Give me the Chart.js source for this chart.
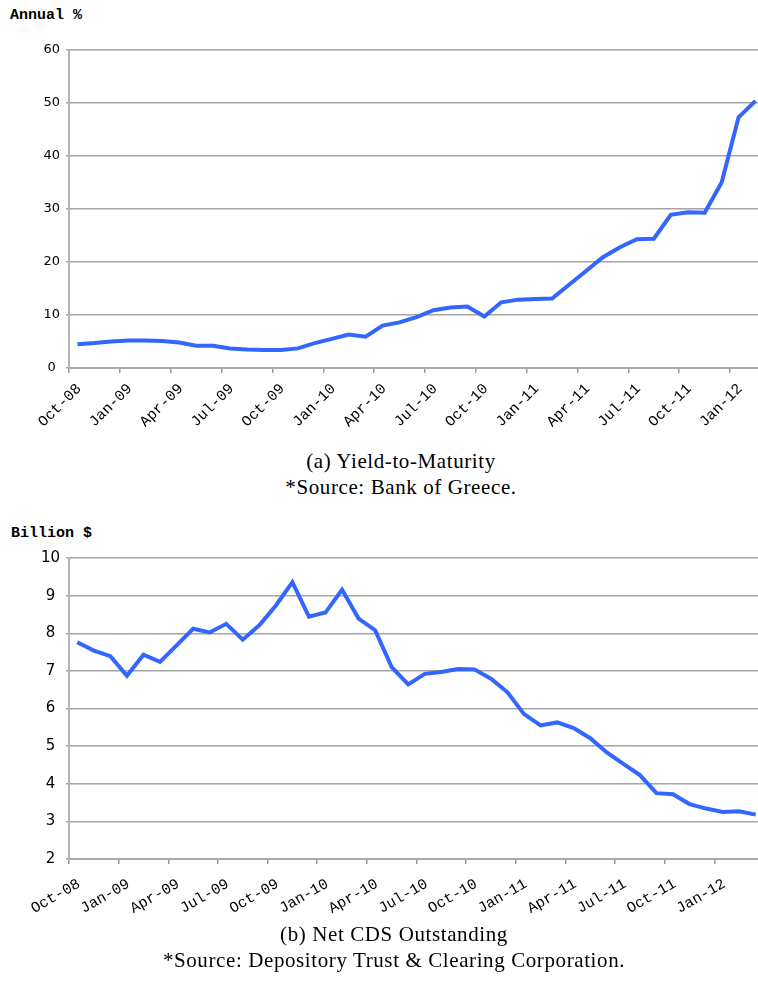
<!DOCTYPE html>
<html>
<head>
<meta charset="utf-8">
<script src="https://cdn.jsdelivr.net/npm/chart.js@4.4.1/dist/chart.umd.min.js"></script>
<style>
  html, body { margin: 0; padding: 0; background: #fff; overflow: hidden; }
  body { width: 758px; height: 992px; position: relative; }
  .box { position: absolute; left: 0; }
  .unit { position: absolute; font: bold 15px "Liberation Mono", monospace; line-height: 15px; color: #000; white-space: nowrap; }
  .cap { position: absolute; width: 800px; text-align: center; font-family: "Liberation Serif", serif; font-size: 21px; line-height: 21px; letter-spacing: 0.6px; color: #000; white-space: nowrap; }
</style>
</head>
<body>

<div class="unit" style="left:10px; top:8px;">Annual %</div>
<div class="box" style="top:0px;"><canvas id="ytm" width="770" height="445"></canvas></div>
<div class="cap" style="left:1px; top:451px;">(a) Yield-to-Maturity</div>
<div class="cap" style="left:1px; top:477px;">*Source: Bank of Greece.</div>

<div class="unit" style="left:11px; top:526px;">Billion $</div>
<div class="box" style="top:500px;"><canvas id="cds" width="770" height="430"></canvas></div>
<div class="cap" style="left:-6px; top:924px;">(b) Net CDS Outstanding</div>
<div class="cap" style="left:-6px; top:950px;">*Source: Depository Trust &amp; Clearing Corporation.</div>

<script>
// monthly observations, Oct-08 onwards
const months = ['Oct-08','Nov-08','Dec-08','Jan-09','Feb-09','Mar-09','Apr-09','May-09','Jun-09','Jul-09',
  'Aug-09','Sep-09','Oct-09','Nov-09','Dec-09','Jan-10','Feb-10','Mar-10','Apr-10','May-10','Jun-10',
  'Jul-10','Aug-10','Sep-10','Oct-10','Nov-10','Dec-10','Jan-11','Feb-11','Mar-11','Apr-11','May-11',
  'Jun-11','Jul-11','Aug-11','Sep-11','Oct-11','Nov-11','Dec-11','Jan-12','Feb-12','Mar-12'];

// quarterly tick labels (at the start of each quarter)
const tickLabels = ['Oct-08','Jan-09','Apr-09','Jul-09','Oct-09','Jan-10','Apr-10',
  'Jul-10','Oct-10','Jan-11','Apr-11','Jul-11','Oct-11','Jan-12'];

// (a) yield-to-maturity, annual %  (Oct-08 .. Feb-12)
const yieldPct = [4.5, 4.7, 5.0, 5.2, 5.2, 5.1, 4.8, 4.2, 4.2, 3.7,
  3.5, 3.4, 3.4, 3.7, 4.7, 5.5, 6.3, 5.9, 8.0, 8.6,
  9.6, 10.9, 11.4, 11.6, 9.7, 12.4, 12.9, 13.0, 13.1, 15.7,
  18.3, 20.9, 22.8, 24.3, 24.4, 28.9, 29.4, 29.3, 35.0, 47.3,
  50.4];

// (b) net CDS outstanding, billion $  (Oct-08 .. Mar-12)
const cdsBillion = [7.76, 7.54, 7.39, 6.87, 7.43, 7.24, 7.68, 8.12, 8.02, 8.25,
  7.83, 8.21, 8.74, 9.36, 8.44, 8.55, 9.16, 8.39, 8.08, 7.10,
  6.64, 6.92, 6.97, 7.05, 7.04, 6.79, 6.43, 5.85, 5.55, 5.63,
  5.48, 5.21, 4.83, 4.53, 4.23, 3.75, 3.72, 3.46, 3.34, 3.25,
  3.27, 3.18];

const yTicksA = [0, 60, 10];
const yTicksB = [2, 10, 1];

// build one line chart; points sit in the middle of their month
function makeChart(id, values, yRange, rotation, yFontSize, padTop, xHeight, xPad) {
  const points = values.map((v, i) => ({ x: i + 0.5, y: v }));
  return new Chart(document.getElementById(id), {
    type: 'line',
    data: {
      datasets: [{
        data: points,
        borderColor: '#3366ff',
        borderWidth: 4,
        pointRadius: 0,
        tension: 0,
        fill: false
      }]
    },
    options: {
      responsive: false,
      animation: false,
      layout: { padding: { top: padTop, right: 6, left: 0, bottom: 0 } },
      plugins: { legend: { display: false }, tooltip: { enabled: false } },
      scales: {
        x: {
          type: 'linear',
          min: 0,
          max: values.length,
          afterBuildTicks: (scale) => {
            scale.ticks = tickLabels.map((t, i) => ({ value: i * 3 }));
          },
          afterFit: (scale) => { scale.height = xHeight; },
          ticks: {
            autoSkip: false,
            minRotation: rotation,
            maxRotation: rotation,
            padding: xPad,
            labelOffset: 10,
            color: '#000',
            font: { family: 'Liberation Mono', size: 15 },
            callback: (v) => tickLabels[Math.round(v / 3)]
          },
          grid: { drawOnChartArea: false, drawTicks: true, tickLength: 5, color: '#999', lineWidth: 1.5 },
          border: { color: '#aaa', width: 2 }
        },
        y: {
          min: yRange[0],
          max: yRange[1],
          afterFit: (scale) => { scale.width = 69; },
          ticks: {
            stepSize: yRange[2],
            crossAlign: 'center',
            padding: 6,
            color: '#000',
            font: { family: 'DejaVu Sans', size: yFontSize }
          },
          grid: { color: '#a4a4a4', lineWidth: 1.5, tickLength: 3 },
          border: { color: '#b4b4b4', width: 2 }
        }
      }
    }
  });
}

makeChart('ytm', yieldPct, yTicksA, 45, 13, 50, 77, 7);
makeChart('cds', cdsBillion, yTicksB, 30, 15, 58, 71, 11);
</script>
</body>
</html>
